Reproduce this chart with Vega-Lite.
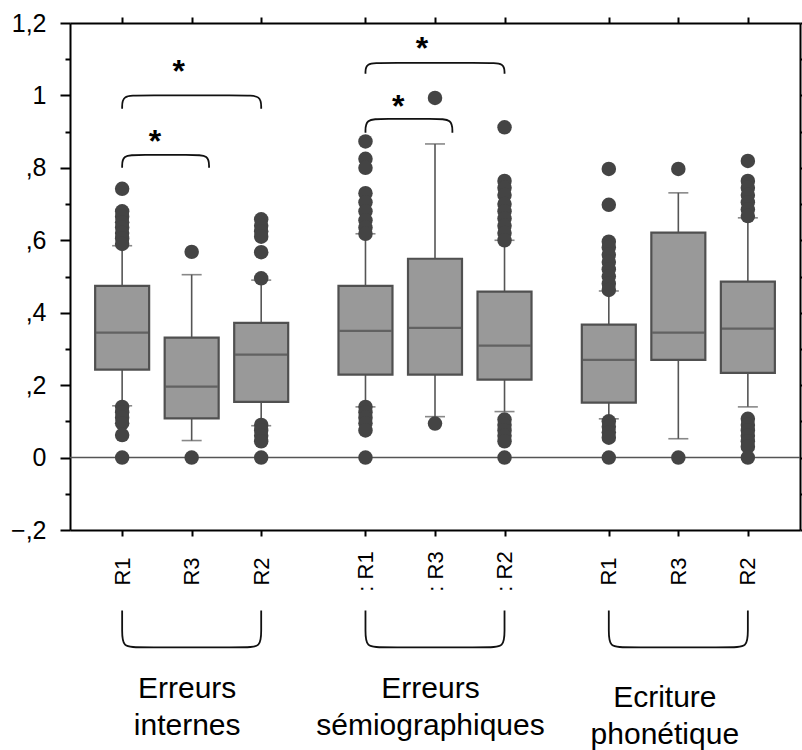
{
  "$schema": "https://vega.github.io/schema/vega-lite/v6.json",
  "width": 730,
  "height": 507,
  "autosize": {"type": "none"},
  "padding": {"left": 70, "top": 23, "right": 2, "bottom": 220},
  "config": {
    "view": {"stroke": null},
    "font": "Liberation Sans",
    "axis": {"grid": false, "domainColor": "#000", "tickColor": "#000", "labelColor": "#000", "domainWidth": 2, "tickWidth": 2, "labelFlush": false, "labelOverlap": false, "labelBound": false, "labelLimit": 0}
  },
  "datasets": {
    "boxes": [
      {"cond": "I-R1", "q1": 0.243, "med": 0.345, "q3": 0.474, "lo": 0.143, "hi": 0.585},
      {"cond": "I-R3", "q1": 0.108, "med": 0.196, "q3": 0.331, "lo": 0.047, "hi": 0.505},
      {"cond": "I-R2", "q1": 0.154, "med": 0.284, "q3": 0.372, "lo": 0.088, "hi": 0.49},
      {"cond": "S-R1", "q1": 0.229, "med": 0.35, "q3": 0.474, "lo": 0.14, "hi": 0.618},
      {"cond": "S-R3", "q1": 0.229, "med": 0.358, "q3": 0.549, "lo": 0.113, "hi": 0.866},
      {"cond": "S-R2", "q1": 0.215, "med": 0.309, "q3": 0.458, "lo": 0.127, "hi": 0.6},
      {"cond": "P-R1", "q1": 0.152, "med": 0.27, "q3": 0.367, "lo": 0.107, "hi": 0.46},
      {"cond": "P-R3", "q1": 0.27, "med": 0.345, "q3": 0.621, "lo": 0.052, "hi": 0.731},
      {"cond": "P-R2", "q1": 0.234, "med": 0.356, "q3": 0.486, "lo": 0.14, "hi": 0.662}
    ],
    "outliers": [
      {"cond": "I-R1", "v": 0.742}, {"cond": "I-R1", "v": 0.68}, {"cond": "I-R1", "v": 0.665}, {"cond": "I-R1", "v": 0.65}, {"cond": "I-R1", "v": 0.635}, {"cond": "I-R1", "v": 0.62}, {"cond": "I-R1", "v": 0.605}, {"cond": "I-R1", "v": 0.59}, {"cond": "I-R1", "v": 0.14}, {"cond": "I-R1", "v": 0.125}, {"cond": "I-R1", "v": 0.11}, {"cond": "I-R1", "v": 0.095}, {"cond": "I-R1", "v": 0.062}, {"cond": "I-R1", "v": 0},
      {"cond": "I-R3", "v": 0.568}, {"cond": "I-R3", "v": 0},
      {"cond": "I-R2", "v": 0.658}, {"cond": "I-R2", "v": 0.64}, {"cond": "I-R2", "v": 0.625}, {"cond": "I-R2", "v": 0.61}, {"cond": "I-R2", "v": 0.567}, {"cond": "I-R2", "v": 0.495}, {"cond": "I-R2", "v": 0.09}, {"cond": "I-R2", "v": 0.075}, {"cond": "I-R2", "v": 0.06}, {"cond": "I-R2", "v": 0.045}, {"cond": "I-R2", "v": 0},
      {"cond": "S-R1", "v": 0.873}, {"cond": "S-R1", "v": 0.825}, {"cond": "S-R1", "v": 0.8}, {"cond": "S-R1", "v": 0.73}, {"cond": "S-R1", "v": 0.705}, {"cond": "S-R1", "v": 0.68}, {"cond": "S-R1", "v": 0.655}, {"cond": "S-R1", "v": 0.635}, {"cond": "S-R1", "v": 0.618}, {"cond": "S-R1", "v": 0.14}, {"cond": "S-R1", "v": 0.125}, {"cond": "S-R1", "v": 0.11}, {"cond": "S-R1", "v": 0.095}, {"cond": "S-R1", "v": 0.075}, {"cond": "S-R1", "v": 0},
      {"cond": "S-R3", "v": 0.993}, {"cond": "S-R3", "v": 0.094},
      {"cond": "S-R2", "v": 0.912}, {"cond": "S-R2", "v": 0.764}, {"cond": "S-R2", "v": 0.745}, {"cond": "S-R2", "v": 0.725}, {"cond": "S-R2", "v": 0.7}, {"cond": "S-R2", "v": 0.68}, {"cond": "S-R2", "v": 0.66}, {"cond": "S-R2", "v": 0.64}, {"cond": "S-R2", "v": 0.62}, {"cond": "S-R2", "v": 0.6}, {"cond": "S-R2", "v": 0.105}, {"cond": "S-R2", "v": 0.09}, {"cond": "S-R2", "v": 0.075}, {"cond": "S-R2", "v": 0.06}, {"cond": "S-R2", "v": 0.045}, {"cond": "S-R2", "v": 0},
      {"cond": "P-R1", "v": 0.797}, {"cond": "P-R1", "v": 0.698}, {"cond": "P-R1", "v": 0.596}, {"cond": "P-R1", "v": 0.58}, {"cond": "P-R1", "v": 0.56}, {"cond": "P-R1", "v": 0.54}, {"cond": "P-R1", "v": 0.52}, {"cond": "P-R1", "v": 0.5}, {"cond": "P-R1", "v": 0.48}, {"cond": "P-R1", "v": 0.463}, {"cond": "P-R1", "v": 0.1}, {"cond": "P-R1", "v": 0.085}, {"cond": "P-R1", "v": 0.07}, {"cond": "P-R1", "v": 0.055}, {"cond": "P-R1", "v": 0},
      {"cond": "P-R3", "v": 0.797}, {"cond": "P-R3", "v": 0},
      {"cond": "P-R2", "v": 0.819}, {"cond": "P-R2", "v": 0.764}, {"cond": "P-R2", "v": 0.745}, {"cond": "P-R2", "v": 0.725}, {"cond": "P-R2", "v": 0.705}, {"cond": "P-R2", "v": 0.685}, {"cond": "P-R2", "v": 0.667}, {"cond": "P-R2", "v": 0.107}, {"cond": "P-R2", "v": 0.09}, {"cond": "P-R2", "v": 0.075}, {"cond": "P-R2", "v": 0.06}, {"cond": "P-R2", "v": 0.045}, {"cond": "P-R2", "v": 0.03}, {"cond": "P-R2", "v": 0}
    ],
    "brackets": [
      {"b": "g1top", "o": 1, "cond": "I-R1", "y": 0.963}, {"b": "g1top", "o": 2, "cond": "I-R1", "y": 1.0}, {"b": "g1top", "o": 3, "cond": "h1", "y": 1.0}, {"b": "g1top", "o": 4, "cond": "h7", "y": 1.0}, {"b": "g1top", "o": 5, "cond": "I-R2", "y": 1.0}, {"b": "g1top", "o": 6, "cond": "I-R2", "y": 0.963},
      {"b": "g1sm", "o": 1, "cond": "I-R1", "y": 0.8}, {"b": "g1sm", "o": 2, "cond": "I-R1", "y": 0.836}, {"b": "g1sm", "o": 3, "cond": "h1", "y": 0.836}, {"b": "g1sm", "o": 4, "cond": "I-R3", "y": 0.836}, {"b": "g1sm", "o": 5, "cond": "h5", "y": 0.836}, {"b": "g1sm", "o": 6, "cond": "h5", "y": 0.8},
      {"b": "g2top", "o": 1, "cond": "S-R1", "y": 1.06}, {"b": "g2top", "o": 2, "cond": "S-R1", "y": 1.09}, {"b": "g2top", "o": 3, "cond": "h15", "y": 1.09}, {"b": "g2top", "o": 4, "cond": "h21", "y": 1.09}, {"b": "g2top", "o": 5, "cond": "S-R2", "y": 1.09}, {"b": "g2top", "o": 6, "cond": "S-R2", "y": 1.06},
      {"b": "g2sm", "o": 1, "cond": "S-R1", "y": 0.897}, {"b": "g2sm", "o": 2, "cond": "S-R1", "y": 0.935}, {"b": "g2sm", "o": 3, "cond": "h15", "y": 0.935}, {"b": "g2sm", "o": 4, "cond": "S-R3", "y": 0.935}, {"b": "g2sm", "o": 5, "cond": "h19", "y": 0.935}, {"b": "g2sm", "o": 6, "cond": "h19", "y": 0.897},
      {"b": "u1", "o": 1, "cond": "I-R1", "y": -0.422}, {"b": "u1", "o": 2, "cond": "I-R1", "y": -0.48}, {"b": "u1", "o": 3, "cond": "I-R1", "y": -0.524}, {"b": "u1", "o": 4, "cond": "h1", "y": -0.524}, {"b": "u1", "o": 5, "cond": "h7", "y": -0.524}, {"b": "u1", "o": 6, "cond": "I-R2", "y": -0.524}, {"b": "u1", "o": 7, "cond": "I-R2", "y": -0.48}, {"b": "u1", "o": 8, "cond": "I-R2", "y": -0.422},
      {"b": "u2", "o": 1, "cond": "S-R1", "y": -0.422}, {"b": "u2", "o": 2, "cond": "S-R1", "y": -0.48}, {"b": "u2", "o": 3, "cond": "S-R1", "y": -0.524}, {"b": "u2", "o": 4, "cond": "h15", "y": -0.524}, {"b": "u2", "o": 5, "cond": "h21", "y": -0.524}, {"b": "u2", "o": 6, "cond": "S-R2", "y": -0.524}, {"b": "u2", "o": 7, "cond": "S-R2", "y": -0.48}, {"b": "u2", "o": 8, "cond": "S-R2", "y": -0.422},
      {"b": "u3", "o": 1, "cond": "P-R1", "y": -0.422}, {"b": "u3", "o": 2, "cond": "P-R1", "y": -0.48}, {"b": "u3", "o": 3, "cond": "P-R1", "y": -0.524}, {"b": "u3", "o": 4, "cond": "h29", "y": -0.524}, {"b": "u3", "o": 5, "cond": "h35", "y": -0.524}, {"b": "u3", "o": 6, "cond": "P-R2", "y": -0.524}, {"b": "u3", "o": 7, "cond": "P-R2", "y": -0.48}, {"b": "u3", "o": 8, "cond": "P-R2", "y": -0.422}
    ],
    "stars": [
      {"cond": "I-R3", "y": 1.037, "lvl": "top"},
      {"cond": "S-R3", "y": 1.101, "lvl": "top"},
      {"cond": "h2", "y": 0.844, "lvl": "small"},
      {"cond": "h16", "y": 0.941, "lvl": "small"}
    ]
  },
  "layer": [
    {
      "data": {"values": [{"zero": 0}]},
      "mark": {"type": "rule", "color": "#555", "strokeWidth": 1.5},
      "encoding": {
        "y": {"field": "zero", "type": "quantitative", "scale": {"domain": [-0.2, 1.2], "nice": false, "zero": false}, "axis": null}
      }
    },
    {
      "data": {"name": "boxes"},
      "mark": {"type": "rule", "color": "#555", "strokeWidth": 1.6},
      "encoding": {
        "x": {"field": "cond", "type": "nominal", "scale": {"type": "point", "padding": 0, "domain": ["a1", "a2", "a3", "I-R1", "h1", "h2", "h3", "I-R3", "h5", "h6", "h7", "I-R2", "h9", "h10", "h11", "h12", "h13", "S-R1", "h15", "h16", "h17", "S-R3", "h19", "h20", "h21", "S-R2", "h23", "h24", "h25", "h26", "h27", "P-R1", "h29", "h30", "h31", "P-R3", "h33", "h34", "h35", "P-R2", "z1", "z2", "z3"]},
          "axis": {"orient": "top", "title": null, "labels": false, "values": ["I-R1", "I-R3", "I-R2", "S-R1", "S-R3", "S-R2", "P-R1", "P-R3", "P-R2"], "tickSize": 6}},
        "y": {"field": "lo", "type": "quantitative", "scale": {"domain": [-0.2, 1.2], "nice": false, "zero": false},
          "axis": {"orient": "right", "title": null, "labels": false, "values": [-0.2, -0.1, 0, 0.1, 0.2, 0.3, 0.4, 0.5, 0.6, 0.7, 0.8, 0.9, 1, 1.1, 1.2], "tickSize": 6}},
        "y2": {"field": "hi"}
      }
    },
    {
      "data": {"name": "boxes"},
      "mark": {"type": "tick", "color": "#555", "size": 20, "thickness": 1.6},
      "encoding": {
        "x": {"field": "cond", "type": "nominal", "scale": {"type": "point", "padding": 0, "domain": ["a1", "a2", "a3", "I-R1", "h1", "h2", "h3", "I-R3", "h5", "h6", "h7", "I-R2", "h9", "h10", "h11", "h12", "h13", "S-R1", "h15", "h16", "h17", "S-R3", "h19", "h20", "h21", "S-R2", "h23", "h24", "h25", "h26", "h27", "P-R1", "h29", "h30", "h31", "P-R3", "h33", "h34", "h35", "P-R2", "z1", "z2", "z3"]}, "axis": null},
        "y": {"field": "lo", "type": "quantitative", "scale": {"domain": [-0.2, 1.2], "nice": false, "zero": false},
          "axis": {"orient": "left", "title": null, "labels": false, "domain": false, "values": [-0.1, 0.1, 0.3, 0.5, 0.7, 0.9, 1.1], "tickSize": 5}}
      }
    },
    {
      "data": {"name": "boxes"},
      "mark": {"type": "tick", "color": "#555", "size": 20, "thickness": 1.6},
      "encoding": {
        "x": {"field": "cond", "type": "nominal", "scale": {"type": "point", "padding": 0, "domain": ["a1", "a2", "a3", "I-R1", "h1", "h2", "h3", "I-R3", "h5", "h6", "h7", "I-R2", "h9", "h10", "h11", "h12", "h13", "S-R1", "h15", "h16", "h17", "S-R3", "h19", "h20", "h21", "S-R2", "h23", "h24", "h25", "h26", "h27", "P-R1", "h29", "h30", "h31", "P-R3", "h33", "h34", "h35", "P-R2", "z1", "z2", "z3"]}, "axis": null},
        "y": {"field": "hi", "type": "quantitative", "scale": {"domain": [-0.2, 1.2], "nice": false, "zero": false}, "axis": null}
      }
    },
    {
      "data": {"name": "boxes"},
      "mark": {"type": "bar", "size": 54, "fill": "#999999", "stroke": "#505050", "strokeWidth": 2.2},
      "encoding": {
        "x": {"field": "cond", "type": "nominal", "scale": {"type": "point", "padding": 0, "domain": ["a1", "a2", "a3", "I-R1", "h1", "h2", "h3", "I-R3", "h5", "h6", "h7", "I-R2", "h9", "h10", "h11", "h12", "h13", "S-R1", "h15", "h16", "h17", "S-R3", "h19", "h20", "h21", "S-R2", "h23", "h24", "h25", "h26", "h27", "P-R1", "h29", "h30", "h31", "P-R3", "h33", "h34", "h35", "P-R2", "z1", "z2", "z3"]},
          "axis": {"orient": "bottom", "title": null, "values": ["I-R1", "I-R3", "I-R2", "S-R1", "S-R3", "S-R2", "P-R1", "P-R3", "P-R2"], "tickSize": 6,
            "labelExpr": "indexof(datum.value, 'S-') == 0 ? ': ' + substring(datum.value, 2) : substring(datum.value, 2)",
            "labelAngle": 270, "labelAlign": "center", "labelBaseline": "middle", "labelPadding": 35, "labelFontSize": 22, "labelFont": "Liberation Sans Narrow, Liberation Sans, sans-serif"}},
        "y": {"field": "q1", "type": "quantitative", "scale": {"domain": [-0.2, 1.2], "nice": false, "zero": false},
          "axis": {"orient": "left", "title": null, "values": [-0.2, 0, 0.2, 0.4, 0.6, 0.8, 1, 1.2], "tickSize": 10, "labelPadding": 14, "labelFontSize": 25,
            "labelExpr": "datum.value == 0 ? '0' : datum.value == 1 ? '1' : replace(replace(format(datum.value, '.1f'), '0.', ','), '.', ',')"}},
        "y2": {"field": "q3"}
      }
    },
    {
      "data": {"name": "boxes"},
      "mark": {"type": "tick", "color": "#4a4a4a", "size": 52, "thickness": 2.2},
      "encoding": {
        "x": {"field": "cond", "type": "nominal", "scale": {"type": "point", "padding": 0, "domain": ["a1", "a2", "a3", "I-R1", "h1", "h2", "h3", "I-R3", "h5", "h6", "h7", "I-R2", "h9", "h10", "h11", "h12", "h13", "S-R1", "h15", "h16", "h17", "S-R3", "h19", "h20", "h21", "S-R2", "h23", "h24", "h25", "h26", "h27", "P-R1", "h29", "h30", "h31", "P-R3", "h33", "h34", "h35", "P-R2", "z1", "z2", "z3"]},
          "axis": {"orient": "bottom", "title": null, "values": ["I-R3", "S-R3", "P-R3"], "ticks": false, "domain": false,
            "labelExpr": "datum.value == 'I-R3' ? ['Erreurs', 'internes'] : datum.value == 'S-R3' ? ['Erreurs', 'sémiographiques'] : ['Ecriture', 'phonétique']",
            "labelAngle": 0, "labelAlign": "center", "labelBaseline": "top", "labelFontSize": 30, "labelLineHeight": 37, "labelLimit": 0,
            "labelPadding": {"condition": {"test": "datum.value == 'P-R3'", "value": 152}, "value": 143},
            "labelOffset": {"condition": {"test": "datum.value == 'P-R3'", "value": -14}, "value": -5}}},
        "y": {"field": "med", "type": "quantitative", "scale": {"domain": [-0.2, 1.2], "nice": false, "zero": false}, "axis": null}
      }
    },
    {
      "data": {"name": "outliers"},
      "mark": {"type": "circle", "size": 210, "color": "#444", "opacity": 1},
      "encoding": {
        "x": {"field": "cond", "type": "nominal", "scale": {"type": "point", "padding": 0, "domain": ["a1", "a2", "a3", "I-R1", "h1", "h2", "h3", "I-R3", "h5", "h6", "h7", "I-R2", "h9", "h10", "h11", "h12", "h13", "S-R1", "h15", "h16", "h17", "S-R3", "h19", "h20", "h21", "S-R2", "h23", "h24", "h25", "h26", "h27", "P-R1", "h29", "h30", "h31", "P-R3", "h33", "h34", "h35", "P-R2", "z1", "z2", "z3"]}, "axis": null},
        "y": {"field": "v", "type": "quantitative", "scale": {"domain": [-0.2, 1.2], "nice": false, "zero": false}, "axis": null}
      }
    },
    {
      "data": {"name": "brackets"},
      "mark": {"type": "line", "interpolate": "basis", "color": "#111", "strokeWidth": 1.8},
      "encoding": {
        "x": {"field": "cond", "type": "nominal", "scale": {"type": "point", "padding": 0, "domain": ["a1", "a2", "a3", "I-R1", "h1", "h2", "h3", "I-R3", "h5", "h6", "h7", "I-R2", "h9", "h10", "h11", "h12", "h13", "S-R1", "h15", "h16", "h17", "S-R3", "h19", "h20", "h21", "S-R2", "h23", "h24", "h25", "h26", "h27", "P-R1", "h29", "h30", "h31", "P-R3", "h33", "h34", "h35", "P-R2", "z1", "z2", "z3"]}, "axis": null},
        "y": {"field": "y", "type": "quantitative", "scale": {"domain": [-0.2, 1.2], "nice": false, "zero": false}, "axis": null},
        "detail": {"field": "b"},
        "order": {"field": "o", "type": "quantitative"}
      }
    },
    {
      "data": {"name": "stars"},
      "transform": [{"filter": "datum.lvl == 'top'"}],
      "mark": {"type": "text", "text": "*", "fontSize": 32, "fontWeight": "bold", "baseline": "alphabetic", "align": "center", "dx": -13, "color": "#000"},
      "encoding": {
        "x": {"field": "cond", "type": "nominal", "scale": {"type": "point", "padding": 0, "domain": ["a1", "a2", "a3", "I-R1", "h1", "h2", "h3", "I-R3", "h5", "h6", "h7", "I-R2", "h9", "h10", "h11", "h12", "h13", "S-R1", "h15", "h16", "h17", "S-R3", "h19", "h20", "h21", "S-R2", "h23", "h24", "h25", "h26", "h27", "P-R1", "h29", "h30", "h31", "P-R3", "h33", "h34", "h35", "P-R2", "z1", "z2", "z3"]}, "axis": null},
        "y": {"field": "y", "type": "quantitative", "scale": {"domain": [-0.2, 1.2], "nice": false, "zero": false}, "axis": null}
      }
    },
    {
      "data": {"name": "stars"},
      "transform": [{"filter": "datum.lvl == 'small'"}],
      "mark": {"type": "text", "text": "*", "fontSize": 32, "fontWeight": "bold", "baseline": "alphabetic", "align": "center", "dx": -2, "color": "#000"},
      "encoding": {
        "x": {"field": "cond", "type": "nominal", "scale": {"type": "point", "padding": 0, "domain": ["a1", "a2", "a3", "I-R1", "h1", "h2", "h3", "I-R3", "h5", "h6", "h7", "I-R2", "h9", "h10", "h11", "h12", "h13", "S-R1", "h15", "h16", "h17", "S-R3", "h19", "h20", "h21", "S-R2", "h23", "h24", "h25", "h26", "h27", "P-R1", "h29", "h30", "h31", "P-R3", "h33", "h34", "h35", "P-R2", "z1", "z2", "z3"]}, "axis": null},
        "y": {"field": "y", "type": "quantitative", "scale": {"domain": [-0.2, 1.2], "nice": false, "zero": false}, "axis": null}
      }
    }
  ],
  "resolve": {"axis": {"x": "independent", "y": "independent"}}
}
